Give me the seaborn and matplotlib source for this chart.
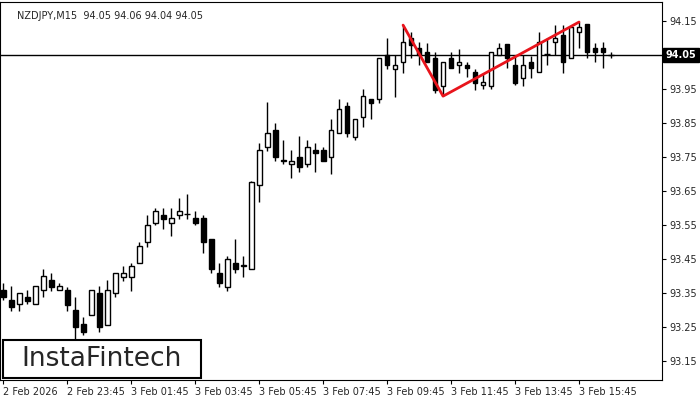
import numpy as np
import pandas as pd
import matplotlib
matplotlib.use("Agg")
import matplotlib.pyplot as plt
import seaborn as sns
from matplotlib.patches import Rectangle

# M15 candles, NZDJPY
opens = [93.359, 93.329, 93.318, 93.338, 93.318, 93.359, 93.388, 93.359, 93.359, 93.300,
         93.259, 93.285, 93.350, 93.256, 93.350, 93.397, 93.397, 93.438, 93.500, 93.556,
         93.579, 93.556, 93.579, 93.579, 93.571, 93.571, 93.509, 93.409, 93.368, 93.438,
         93.429, 93.421, 93.668, 93.779, 93.829, 93.738, 93.729, 93.750, 93.729, 93.771,
         93.771, 93.750, 93.821, 93.900, 93.809, 93.868, 93.921, 93.921, 94.050, 94.009,
         94.029, 94.100, 94.071, 94.059, 94.041, 93.959, 94.041, 94.021, 94.021, 94.000,
         93.962, 93.959, 94.050, 94.082, 94.021, 93.982, 94.029, 94.000, 94.050, 94.088,
         94.109, 94.041, 94.118, 94.141, 94.071, 94.071, 94.050]
highs = [93.379, 93.371, 93.350, 93.359, 93.371, 93.421, 93.409, 93.379, 93.368, 93.338,
         93.279, 93.359, 93.371, 93.388, 93.409, 93.429, 93.438, 93.500, 93.579, 93.600,
         93.600, 93.600, 93.629, 93.641, 93.591, 93.579, 93.509, 93.438, 93.459, 93.509,
         93.459, 93.679, 93.791, 93.912, 93.850, 93.800, 93.771, 93.812, 93.800, 93.791,
         93.779, 93.862, 93.921, 93.912, 93.862, 93.950, 93.921, 94.041, 94.100, 94.050,
         94.138, 94.118, 94.088, 94.085, 94.059, 94.029, 94.059, 94.068, 94.029, 94.009,
         93.997, 94.059, 94.085, 94.082, 94.050, 94.050, 94.047, 94.118, 94.100, 94.138,
         94.138, 94.132, 94.147, 94.141, 94.085, 94.088, 94.059]
lows = [93.329, 93.297, 93.297, 93.318, 93.318, 93.338, 93.356, 93.359, 93.297, 93.212,
        93.226, 93.285, 93.235, 93.256, 93.338, 93.385, 93.356, 93.438, 93.485, 93.550,
        93.538, 93.518, 93.568, 93.568, 93.550, 93.468, 93.409, 93.368, 93.356, 93.409,
        93.397, 93.421, 93.618, 93.768, 93.738, 93.729, 93.688, 93.706, 93.721, 93.706,
        93.738, 93.700, 93.821, 93.809, 93.800, 93.838, 93.862, 93.909, 94.009, 93.926,
        93.997, 94.041, 94.021, 94.029, 93.938, 93.929, 94.012, 93.997, 93.985, 93.947,
        93.950, 93.950, 94.050, 94.012, 93.962, 93.959, 93.982, 94.000, 94.021, 94.050,
        93.997, 94.041, 94.071, 94.041, 94.029, 94.012, 94.041]
closes = [93.338, 93.309, 93.350, 93.326, 93.371, 93.400, 93.368, 93.371, 93.315, 93.250,
          93.235, 93.359, 93.250, 93.359, 93.409, 93.409, 93.429, 93.488, 93.550, 93.591,
          93.568, 93.571, 93.591, 93.581, 93.556, 93.500, 93.421, 93.379, 93.450, 93.421,
          93.432, 93.676, 93.771, 93.821, 93.750, 93.741, 93.738, 93.721, 93.779, 93.762,
          93.738, 93.829, 93.891, 93.821, 93.862, 93.929, 93.909, 94.041, 94.021, 94.021,
          94.088, 94.079, 94.050, 94.029, 93.947, 94.029, 94.012, 94.029, 94.012, 93.968,
          93.971, 94.059, 94.071, 94.041, 93.968, 94.021, 94.012, 94.088, 94.052, 94.100,
          94.029, 94.132, 94.132, 94.059, 94.059, 94.059, 94.050]

tick_labels = ["2 Feb 2026", "2 Feb 23:45", "3 Feb 01:45", "3 Feb 03:45", "3 Feb 05:45",
               "3 Feb 07:45", "3 Feb 09:45", "3 Feb 11:45", "3 Feb 13:45", "3 Feb 15:45"]
price_ticks = [93.15, 93.25, 93.35, 93.45, 93.55, 93.65, 93.75, 93.85, 93.95, 94.05, 94.15]
last_price = 94.05

# pattern line: peak, trough, peak
pattern_idx = [50, 55, 72]
pattern_px = [highs[50], lows[55], highs[72]]

df = pd.DataFrame({"open": opens, "high": highs, "low": lows, "close": closes})
df["i"] = np.arange(len(df))

sns.set_style("white")
plt.rcParams["font.family"] = ["DejaVu Sans"]

fig = plt.figure(figsize=(7, 4), dpi=100)
ax = fig.add_axes([0.0, 0.05, 0.946, 0.945])

w = 0.6
ax.vlines(df["i"], df["low"], df["high"], color="black", linewidth=1, zorder=2)
for _, r in df.iterrows():
    lo, hi = min(r.open, r.close), max(r.open, r.close)
    if hi - lo < 0.003:
        ax.hlines(r.close, r.i - w / 2 - 0.1, r.i + w / 2 + 0.1, color="black", linewidth=1, zorder=3)
        continue
    face = "white" if r.close > r.open else "black"
    ax.add_patch(Rectangle((r.i - w / 2, lo), w, hi - lo, facecolor=face,
                           edgecolor="black", linewidth=1, zorder=3))

sns.lineplot(x=pattern_idx, y=pattern_px, ax=ax, color="#e8141c", linewidth=2, zorder=4)

ax.axhline(last_price, color="black", linewidth=1, zorder=1)

ax.set_xlim(-0.4, 82.4)
ax.set_ylim(93.094, 94.206)
ax.set_xticks(np.arange(0, 80, 8))
ax.set_xticklabels(tick_labels, fontsize=7, ha="left")
ax.yaxis.tick_right()
ax.set_yticks(price_ticks)
# the last-price box takes the place of its own tick label
ax.set_yticklabels(["" if p == last_price else f"{p:.2f}" for p in price_ticks], fontsize=7)
ax.tick_params(axis="both", length=3, width=0.8, color="black", pad=2, direction="out")
ax.tick_params(axis="x", bottom=True)
ax.tick_params(axis="y", right=True)
for s in ax.spines.values():
    s.set_color("black")
    s.set_linewidth(0.8)
ax.grid(False)

ax.text(1.005, last_price, f"{last_price:.2f}", transform=ax.get_yaxis_transform(),
        fontsize=7, color="white", fontweight="bold", va="center", ha="left",
        bbox=dict(facecolor="black", edgecolor="black", boxstyle="square,pad=0.25"), zorder=5)

ax.text(0.025, 0.975, "NZDJPY,M15  94.05 94.06 94.04 94.05", transform=ax.transAxes,
        fontsize=7, va="top", ha="left")

# logo box
fig.patches.append(Rectangle((3 / 700, 22 / 400), 198 / 700, 38 / 400, transform=fig.transFigure,
                             facecolor="white", edgecolor="black", linewidth=1.5, zorder=10))
fig.text(102 / 700, 41 / 400, "InstaFintech", fontsize=19, ha="center", va="center", zorder=11)

fig.savefig("out.png", dpi=100)
